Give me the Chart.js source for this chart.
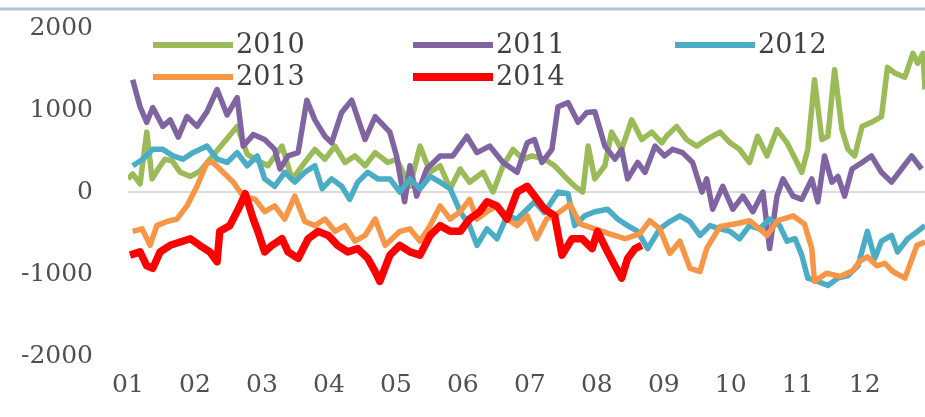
<!DOCTYPE html>
<html>
<head>
<meta charset="utf-8">
<script src="https://cdn.jsdelivr.net/npm/chart.js@4/dist/chart.umd.min.js"></script>
<style>
  body { margin: 0; background: #fff; }
  #wrap { width: 925px; height: 417px; position: relative; }
</style>
</head>
<body>
<div id="wrap"><canvas id="c"></canvas></div>
<script>
// month ticks
const monthLabels = ['01','02','03','04','05','06','07','08','09','10','11','12'];
const seriesNames = ['2010','2011','2012','2013','2014'];

// [month offset, value]
const s2010 = [[0,160],[0.07,220],[0.18,100],[0.28,730],[0.36,160],[0.45,280],[0.55,400],[0.66,380],[0.78,240],[0.93,190],[1.07,250],
  [1.63,800],[1.78,460],[1.9,400],[2.09,320],[2.3,560],[2.45,150],[2.64,360],[2.79,520],[2.94,400],[3.09,560],[3.24,360],[3.39,440],
  [3.54,320],[3.69,480],[3.88,360],[4.01,400],[4.21,70],[4.36,560],[4.51,240],[4.66,320],[4.81,40],[4.96,280],[5.1,120],[5.3,240],
  [5.45,0],[5.6,320],[5.75,520],[5.9,400],[6.03,440],[6.22,400],[6.37,320],[6.52,190],[6.67,70],[6.79,0],[6.87,560],[6.97,160],
  [7.12,320],[7.22,730],[7.37,520],[7.52,880],[7.67,640],[7.82,730],[7.97,600],[8.04,680],[8.19,800],[8.34,640],[8.49,560],[8.64,640],
  [8.84,730],[8.99,600],[9.13,520],[9.28,360],[9.4,680],[9.54,440],[9.69,760],[9.84,600],[9.99,360],[10.06,240],[10.15,520],[10.25,1370],
  [10.36,640],[10.45,680],[10.55,1490],[10.66,760],[10.75,520],[10.85,440],[10.96,800],[11.1,850],[11.25,920],[11.34,1520],[11.45,1450],
  [11.6,1400],[11.72,1690],[11.79,1570],[11.87,1690],[11.9,1250]];

const s2011 = [[0.07,1370],[0.18,1040],[0.28,850],[0.37,1030],[0.52,800],[0.63,880],[0.75,670],[0.88,920],[1.03,800],[1.18,980],[1.33,1250],
  [1.48,940],[1.63,1150],[1.72,560],[1.87,700],[2.04,640],[2.19,520],[2.27,280],[2.39,440],[2.54,480],[2.67,1120],[2.79,880],[2.94,680],
  [3.04,600],[3.19,970],[3.34,1120],[3.54,640],[3.69,920],[3.91,730],[4.01,440],[4.13,-120],[4.21,320],[4.31,-50],[4.46,280],[4.66,440],
  [4.85,440],[5.06,680],[5.21,480],[5.4,560],[5.6,360],[5.81,240],[5.96,600],[6.07,640],[6.18,360],[6.33,520],[6.42,1040],[6.57,1090],
  [6.72,850],[6.85,970],[6.97,980],[7.12,560],[7.27,400],[7.37,520],[7.46,160],[7.61,360],[7.72,240],[7.87,560],[8.01,440],[8.13,520],
  [8.28,480],[8.43,360],[8.57,0],[8.64,160],[8.73,-210],[8.88,70],[9.03,-210],[9.18,-50],[9.33,-240],[9.48,0],[9.58,-690],[9.69,-50],
  [9.78,160],[9.93,-50],[10.06,-90],[10.21,160],[10.3,-120],[10.4,440],[10.51,120],[10.6,190],[10.7,-50],[10.81,280],[10.96,360],
  [11.1,440],[11.25,240],[11.4,120],[11.55,280],[11.7,440],[11.85,280]];

const s2012 = [[0.07,320],[0.22,400],[0.37,520],[0.52,520],[0.67,440],[0.82,400],[0.97,480],[1.18,560],[1.33,400],[1.48,360],[1.63,480],
  [1.78,320],[1.93,440],[2.04,160],[2.19,70],[2.34,240],[2.49,120],[2.64,240],[2.79,320],[2.9,40],[3.04,160],[3.19,70],[3.31,-90],
  [3.43,120],[3.58,240],[3.73,160],[3.91,160],[4.06,0],[4.21,160],[4.36,40],[4.51,190],[4.66,120],[4.81,40],[4.96,-240],[5.1,-410],
  [5.21,-650],[5.36,-450],[5.51,-570],[5.66,-290],[5.81,-330],[5.96,-210],[6.07,-120],[6.22,-250],[6.42,0],[6.57,-20],[6.67,-410],
  [6.82,-290],[6.97,-240],[7.16,-210],[7.31,-330],[7.46,-410],[7.61,-480],[7.76,-690],[7.94,-450],[8.09,-360],[8.24,-290],[8.39,-360],
  [8.54,-530],[8.69,-410],[8.84,-450],[8.99,-480],[9.13,-570],[9.28,-410],[9.43,-450],[9.58,-330],[9.73,-410],[9.84,-600],[9.96,-570],
  [10.06,-770],[10.15,-1050],[10.3,-1090],[10.45,-1140],[10.6,-1050],[10.75,-1020],[10.9,-900],[11.04,-480],[11.15,-810],[11.25,-600],
  [11.4,-530],[11.49,-730],[11.64,-570],[11.79,-480],[11.9,-410]];

const s2013 = [[0.07,-480],[0.21,-450],[0.33,-650],[0.43,-410],[0.58,-360],[0.73,-330],[0.88,-170],[1.03,70],[1.18,360],[1.27,360],
  [1.42,240],[1.57,120],[1.72,-50],[1.9,-90],[2.04,-240],[2.19,-170],[2.34,-330],[2.49,-50],[2.64,-360],[2.79,-410],[2.94,-330],
  [3.09,-480],[3.24,-410],[3.39,-600],[3.54,-530],[3.69,-330],[3.84,-650],[4.06,-480],[4.21,-450],[4.36,-600],[4.51,-410],[4.66,-170],
  [4.81,-330],[4.96,-240],[5.1,-90],[5.21,-330],[5.36,-240],[5.51,-170],[5.66,-330],[5.81,-410],[5.96,-290],[6.1,-570],[6.25,-330],
  [6.4,-270],[6.6,-150],[6.75,-390],[6.97,-450],[7.19,-510],[7.42,-570],[7.64,-510],[7.79,-350],[7.94,-450],[8.09,-750],[8.24,-600],
  [8.39,-930],[8.54,-970],[8.64,-690],[8.84,-420],[9.06,-390],[9.28,-350],[9.43,-450],[9.54,-530],[9.7,-350],[9.93,-290],[10.1,-390],
  [10.21,-690],[10.25,-1090],[10.43,-990],[10.63,-1030],[10.82,-960],[10.93,-840],[11.04,-790],[11.18,-900],[11.3,-870],[11.42,-970],
  [11.6,-1050],[11.78,-650],[11.9,-610]];

const s2014 = [[0.03,-770],[0.18,-730],[0.28,-900],[0.37,-930],[0.48,-730],[0.63,-650],[0.78,-610],[0.93,-570],[1.07,-650],[1.22,-730],
  [1.33,-850],[1.37,-480],[1.52,-410],[1.67,-170],[1.75,-20],[1.87,-330],[1.94,-480],[2.04,-730],[2.15,-650],[2.3,-570],[2.39,-730],
  [2.54,-810],[2.69,-570],[2.84,-480],[2.99,-530],[3.13,-650],[3.28,-730],[3.43,-690],[3.58,-810],[3.69,-970],[3.76,-1090],[3.91,-770],
  [4.06,-650],[4.21,-730],[4.36,-770],[4.51,-530],[4.66,-410],[4.81,-480],[4.96,-480],[5.1,-330],[5.25,-240],[5.36,-120],[5.51,-170],
  [5.66,-330],[5.81,0],[5.96,70],[6.07,-50],[6.22,-210],[6.37,-290],[6.48,-770],[6.63,-570],[6.78,-570],[6.93,-690],[7.01,-480],
  [7.16,-730],[7.27,-900],[7.37,-1050],[7.46,-810],[7.57,-690],[7.67,-650]];

const colors = ['#9bbb59','#8064a2','#4bacc6','#f79646','#ff0000'];
const widths = [5.5, 5.5, 5.5, 5.5, 7.5];
const allSeries = [s2010, s2011, s2012, s2013, s2014];

const FONT = '"DejaVu Serif", serif';

const datasets = allSeries.map((s, i) => ({
  label: seriesNames[i],
  data: s.map(p => ({x: p[0], y: p[1]})),
  borderColor: colors[i],
  backgroundColor: colors[i],
  borderWidth: widths[i],
  pointRadius: 0,
  tension: 0,
  borderJoinStyle: 'round',
  order: 5 - i
}));

// thin rule across the top + excel style legend inside the plot
const decor = {
  id: 'decor',
  beforeDraw(chart) {
    const ctx = chart.ctx;
    ctx.save();
    ctx.fillStyle = '#fff';
    ctx.fillRect(0, 0, chart.width, chart.height);
    ctx.strokeStyle = '#b4c2d2';
    ctx.lineWidth = 3;
    ctx.beginPath();
    ctx.moveTo(0, 9);
    ctx.lineTo(chart.width, 9);
    ctx.stroke();
    ctx.restore();
  },
  afterDraw(chart) {
    const ctx = chart.ctx;
    const colX = [153, 413, 675];
    const rowY = [45, 77];
    ctx.save();
    ctx.font = '27px ' + FONT;
    ctx.textBaseline = 'middle';
    chart.data.datasets.forEach((ds, i) => {
      const x = colX[i % 3], y = rowY[Math.floor(i / 3)];
      ctx.strokeStyle = ds.borderColor;
      ctx.lineWidth = ds.borderWidth + 0.5;
      ctx.beginPath();
      ctx.moveTo(x, y);
      ctx.lineTo(x + 80, y);
      ctx.stroke();
      ctx.fillStyle = '#404040';
      ctx.fillText(ds.label, x + 83, y + 1);
    });
    ctx.restore();
  }
};

new Chart(document.getElementById('c'), {
  type: 'line',
  data: { datasets: datasets },
  options: {
    responsive: true,
    maintainAspectRatio: false,
    animation: false,
    layout: { padding: { left: 0, right: 0, top: 28, bottom: 11 } },
    plugins: { legend: { display: false }, tooltip: { enabled: false } },
    scales: {
      x: {
        type: 'linear',
        min: 0,
        max: 11.9,
        grid: { display: false },
        border: { display: false },
        ticks: {
          stepSize: 1,
          autoSkip: false,
          maxRotation: 0,
          includeBounds: false,
          padding: 6,
          color: '#505050',
          font: { family: FONT, size: 25 },
          callback: v => monthLabels[v]
        }
      },
      y: {
        min: -2000,
        max: 2000,
        afterFit(scale) {
          scale.width = 128;
          scale.paddingTop = 0;
          scale.paddingBottom = 0;
        },
        grid: {
          drawTicks: false,
          lineWidth: 2,
          color: c => c.tick && c.tick.value === 0 ? '#dcdcdc' : 'rgba(0,0,0,0)'
        },
        border: { display: false },
        ticks: {
          stepSize: 1000,
          padding: 35,
          color: '#505050',
          font: { family: FONT, size: 25 },
          callback: v => String(v)
        }
      }
    }
  },
  plugins: [decor]
});
</script>
</body>
</html>
